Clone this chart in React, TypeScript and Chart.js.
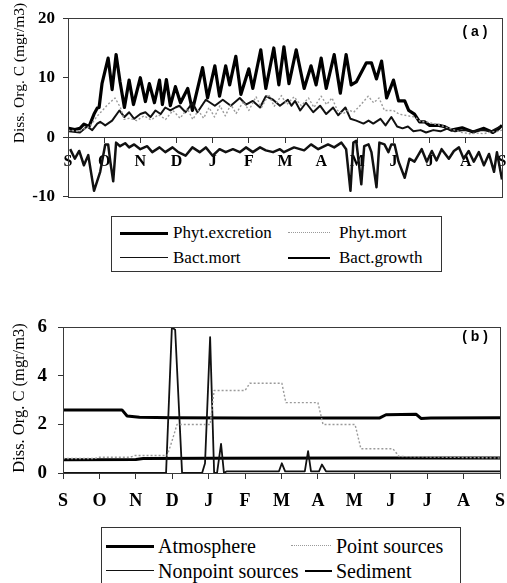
import React, { useEffect, useRef } from "react";
import { Chart, registerables } from "chart.js";
Chart.register(...registerables);

const monthLabels = ["S", "O", "N", "D", "J", "F", "M", "A", "M", "J", "J", "A", "S"];
const yTicksA = [-10, 0, 10, 20];
const yTicksB = [0, 2, 4, 6];
const yTitle = "Diss. Org. C (mgr/m3)";

// Panel (a): [month since Sept 1, mgr/m3]
const phytExcretion: [number, number][] = [
  [0.02, 1.5], [0.19, 1.3], [0.33, 1.5], [0.44, 2.2], [0.58, 1.8], [0.72, 3.9], [0.81, 4.9], [0.86, 5.0],
  [0.94, 9], [1.11, 13.3], [1.22, 8], [1.33, 13.9], [1.44, 9.3], [1.56, 5], [1.69, 9.6], [1.81, 5.5],
  [2.0, 10], [2.14, 6], [2.25, 9], [2.39, 5.8], [2.53, 9.6], [2.61, 5.5], [2.72, 9.7], [2.83, 5.3],
  [2.97, 8.5], [3.11, 5.8], [3.31, 8.2], [3.44, 4.5], [3.72, 11.7], [3.86, 6.6], [4.06, 12], [4.19, 6.9],
  [4.36, 12], [4.47, 8.8], [4.64, 13.6], [4.78, 7.2], [5.0, 11.5], [5.11, 8.2], [5.33, 14.7], [5.47, 8.2],
  [5.69, 15], [5.83, 8.8], [5.97, 15.2], [6.11, 9], [6.31, 14.7], [6.53, 8.2], [6.72, 12], [6.86, 8.8],
  [7.0, 13.3], [7.14, 8.2], [7.36, 13.9], [7.53, 7.4], [7.69, 13.9], [7.83, 8.8], [7.97, 9.3], [8.25, 12.5],
  [8.39, 12.5], [8.53, 9.8], [8.67, 12.8], [8.81, 6.6], [9.0, 9.6], [9.14, 6.1], [9.31, 6.1], [9.42, 4.5],
  [9.58, 3.9], [9.72, 2.6], [9.86, 2.6], [10.0, 2.0], [10.25, 2.0], [10.4, 1.8], [10.6, 1.2], [10.9, 1.6],
  [11.2, 0.9], [11.5, 1.5], [11.75, 0.8], [11.9, 1.4], [12.0, 2.0],
];

const phytMort: [number, number][] = [
  [0, 1.2], [0.3, 1.0], [0.6, 1.8], [0.8, 3.5], [1.1, 5.5], [1.3, 6.6], [1.45, 5], [1.55, 3.0],
  [1.7, 3.2], [1.9, 2.8], [2.1, 3.6], [2.3, 2.9], [2.5, 3.8], [2.7, 3.0], [2.9, 4.5], [3.1, 3.2],
  [3.3, 4.8], [3.45, 3.0], [3.6, 4.5], [3.75, 3.2], [3.9, 5.0], [4.05, 3.4], [4.2, 5.3], [4.35, 3.6],
  [4.5, 5.5], [4.65, 4.0], [4.85, 6.0], [5.0, 4.5], [5.2, 6.8], [5.35, 5.0], [5.55, 7.2], [5.7, 5.2],
  [5.9, 7.0], [6.05, 5.5], [6.25, 6.8], [6.45, 5.3], [6.65, 6.6], [6.8, 5.0], [7.0, 6.9], [7.15, 5.5],
  [7.3, 6.6], [7.45, 4.5], [7.6, 3.9], [7.75, 4.6], [7.9, 4.2], [8.1, 5.5], [8.3, 6.9], [8.45, 5.8],
  [8.6, 6.6], [8.75, 4.5], [9.0, 4.5], [9.15, 3.9], [9.4, 3.6], [9.6, 3.4], [9.75, 2.6], [9.9, 2.6],
  [10.1, 2.3], [10.3, 2.0], [10.5, 1.6], [10.7, 1.2], [10.9, 0.8], [11.1, 0.6], [11.3, 0.7], [11.5, 0.6],
  [11.7, 0.9], [11.9, 1.0], [12, 1.2],
];

const bactMort: [number, number][] = [
  [0.03, 1.0], [0.33, 0.8], [0.53, 1.8], [0.67, 1.2], [0.81, 2.3], [0.89, 2.6], [1.03, 2.0], [1.22, 2.8],
  [1.42, 4.5], [1.56, 3.4], [1.69, 4.2], [1.83, 3.1], [2.0, 3.9], [2.14, 4.2], [2.28, 3.4], [2.42, 4.5],
  [2.56, 3.9], [2.69, 5.0], [2.83, 4.5], [2.97, 5.0], [3.08, 5.3], [3.25, 4.2], [3.44, 5.8], [3.58, 4.2],
  [3.81, 6.3], [4.06, 5.3], [4.28, 6.3], [4.5, 5.3], [4.75, 6.6], [4.92, 5.5], [5.11, 6.1], [5.31, 5.0],
  [5.47, 6.9], [5.67, 6.3], [5.86, 5.3], [6.08, 6.3], [6.18, 5.3], [6.28, 6.1], [6.42, 4.5], [6.58, 5.8],
  [6.78, 4.2], [6.97, 5.3], [7.14, 3.9], [7.33, 5.0], [7.47, 3.7], [7.67, 5.0], [7.81, 3.1], [7.97, 2.8],
  [8.17, 2.3], [8.31, 2.8], [8.44, 2.3], [8.64, 3.1], [8.78, 2.0], [8.94, 3.4], [9.1, 1.8], [9.25, 1.5],
  [9.4, 1.8], [9.55, 1.0], [9.75, 1.2], [9.9, 0.8], [10.1, 1.2], [10.3, 1.0], [10.5, 1.5], [10.7, 1.0],
  [10.95, 1.2], [11.2, 1.0], [11.45, 1.2], [11.7, 1.0], [11.95, 1.8],
];

const bactGrowth: [number, number][] = [
  [0.06, -2], [0.19, -3.6], [0.31, -2.3], [0.44, -4.7], [0.56, -3], [0.72, -9], [0.89, -5.8], [1.03, -1.2],
  [1.11, -1.2], [1.17, -4.1], [1.25, -7.4], [1.33, -0.9], [1.44, -1.5], [1.58, -1.0], [1.69, -1.7], [1.83, -1.2],
  [2.0, -2.0], [2.19, -1.5], [2.33, -2.5], [2.53, -1.7], [2.69, -2.5], [2.89, -1.7], [3.05, -2.5], [3.25, -3.1],
  [3.44, -1.7], [3.64, -2.5], [3.81, -1.7], [4.0, -3.1], [4.19, -2.0], [4.36, -2.5], [4.56, -2.0], [4.75, -2.5],
  [4.92, -1.7], [5.11, -2.5], [5.31, -1.7], [5.47, -2.2], [5.67, -2.5], [5.86, -2.0], [5.97, -2.5], [6.25, -1.7],
  [6.53, -2.2], [6.72, -1.2], [6.92, -2.0], [7.19, -1.2], [7.36, -1.7], [7.56, -0.9], [7.69, -2.0], [7.81, -9.0],
  [7.89, -0.9], [7.97, -0.6], [8.11, -7.9], [8.19, -1.5], [8.31, -1.2], [8.39, -2.5], [8.53, -8.4], [8.61, -0.9],
  [8.75, -1.2], [8.86, -2.5], [8.94, -1.2], [9.03, -1.2], [9.14, -4.1], [9.31, -6.8], [9.44, -3.6], [9.58, -4.1],
  [9.78, -2.0], [9.92, -4.1], [10.06, -2.3], [10.19, -3.9], [10.33, -2.0], [10.53, -3.6], [10.67, -2.3], [10.81, -1.7],
  [10.94, -3.6], [11.08, -2.3], [11.22, -4.1], [11.36, -2.5], [11.5, -4.7], [11.64, -2.8], [11.78, -5.8], [11.86, -2.5],
  [12.0, -7.1],
];

// Panel (b)
const atmosphere: [number, number][] = [
  [0, 0.55], [2.0, 0.56], [2.2, 0.6], [4, 0.61], [8, 0.62], [12, 0.62],
];
const pointSources: [number, number][] = [
  [0, 0.6], [0.88, 0.6], [1.0, 0.65], [1.84, 0.65], [1.98, 0.72], [2.86, 0.72], [2.99, 1.3], [3.13, 2.0],
  [4.04, 2.0], [4.15, 3.4], [5.0, 3.4], [5.13, 3.7], [6.01, 3.7], [6.12, 2.9], [7.0, 2.9], [7.14, 2.0],
  [8.02, 2.0], [8.18, 1.0], [9.06, 1.0], [9.23, 0.68], [10.5, 0.65], [12, 0.62],
];
const nonpointSources: [number, number][] = [
  [0, 0], [2.83, 0], [2.99, 6.0], [3.08, 5.9], [3.27, 0], [3.82, 0], [3.9, 0.4], [4.04, 5.6],
  [4.15, 0], [4.23, 0], [4.34, 1.2], [4.42, 0], [4.5, 0.07], [5.93, 0.07], [6.01, 0.4], [6.1, 0.07],
  [6.64, 0.07], [6.73, 0.9], [6.81, 0.07], [7.03, 0.07], [7.11, 0.35], [7.22, 0.07], [12, 0.07],
];
const sediment: [number, number][] = [
  [0, 2.6], [1.62, 2.6], [1.76, 2.35], [2.1, 2.3], [3, 2.28], [5, 2.27], [8.7, 2.27], [8.87, 2.4],
  [9.7, 2.42], [9.83, 2.25], [10.1, 2.27], [12, 2.28],
];

const SERIF = "'Liberation Serif', 'Times New Roman', serif";
const SANS = "'Liberation Sans', Arial, sans-serif";

const pts = (arr: [number, number][]) => arr.map(([x, y]) => ({ x, y }));

const framePlugin = {
  id: "frame",
  afterDraw(chart: any, _args: any, opts: any) {
    const { ctx, chartArea: a } = chart;
    ctx.save();
    ctx.strokeStyle = "#3a3a3a";
    ctx.lineWidth = 1;
    ctx.strokeRect(Math.round(a.left) + 0.5, Math.round(a.top) + 0.5, Math.round(a.right - a.left), Math.round(a.bottom - a.top));
    ctx.fillStyle = "#000";
    ctx.font = `${opts.titleSize}px ${SERIF}`;
    ctx.textAlign = "center";
    ctx.textBaseline = "middle";
    ctx.translate(opts.titleX, opts.titleY);
    ctx.rotate(-Math.PI / 2);
    ctx.fillText(yTitle, 0, 0);
    ctx.restore();
    ctx.save();
    ctx.fillStyle = "#000";
    ctx.font = `bold 14px ${SANS}`;
    ctx.textAlign = "center";
    ctx.textBaseline = "middle";
    ctx.fillText(opts.tag, opts.tagX, opts.tagY);
    ctx.restore();
  },
};

function line(label: string, data: [number, number][], color: string, width: number, dash: number[] = []) {
  return {
    label,
    data: pts(data),
    borderColor: color,
    borderWidth: width,
    borderDash: dash,
    pointRadius: 0,
    tension: 0,
    fill: false,
    borderJoinStyle: "round" as const,
  };
}

function makeOptions(cfg: any) {
  return {
    responsive: false,
    animation: false,
    devicePixelRatio: 1,
    layout: { padding: cfg.padding },
    plugins: {
      legend: { display: false },
      tooltip: { enabled: false },
      frame: cfg.frame,
    },
    scales: {
      x: {
        type: "linear",
        min: 0,
        max: 12,
        position: cfg.xPosition,
        ticks: {
          stepSize: 1,
          autoSkip: false,
          maxRotation: 0,
          color: "#000",
          padding: cfg.xPad,
          font: { family: SERIF, size: cfg.xFont, weight: "bold" },
          callback: (v: number) => monthLabels[Math.round(v)],
        },
        grid: { drawOnChartArea: false, drawTicks: true, tickLength: cfg.xTick, color: "#333" },
        border: { display: true, color: "#333" },
        afterFit: (s: any) => {
          s.paddingLeft = 0;
          s.paddingRight = 0;
          if (cfg.xHeight) s.height = cfg.xHeight;
        },
      },
      y: {
        type: "linear",
        min: cfg.yMin,
        max: cfg.yMax,
        afterBuildTicks: (s: any) => {
          s.ticks = cfg.yTicks.map((v: number) => ({ value: v }));
        },
        ticks: {
          color: "#000",
          padding: cfg.yPad,
          font: { family: SERIF, size: cfg.yFont, weight: "bold" },
        },
        grid: { drawOnChartArea: false, drawTicks: true, tickLength: 5, color: "#333" },
        border: { display: true, color: "#333" },
        afterFit: (s: any) => {
          s.width = cfg.yWidth;
        },
      },
    },
  };
}

function ChartA() {
  const ref = useRef<HTMLCanvasElement>(null);
  useEffect(() => {
    const chart = new Chart(ref.current!, {
      type: "line",
      data: {
        datasets: [
          line("Phyt.mort", phytMort, "#9a9a9a", 1.4, [2, 2]),
          line("Bact.mort", bactMort, "#111", 2),
          line("Bact.growth", bactGrowth, "#111", 2.5),
          line("Phyt.excretion", phytExcretion, "#000", 3.2),
        ],
      },
      options: makeOptions({
        padding: { top: 17, right: 5, bottom: 13, left: 0 },
        xPosition: { y: 0 },
        xPad: 10,
        xTick: 5,
        xFont: 16,
        yMin: -10,
        yMax: 20,
        yTicks: yTicksA,
        yPad: 8,
        yFont: 17,
        yWidth: 68,
        frame: { titleX: 20, titleY: 73, titleSize: 15.5, tag: "( a )", tagX: 475, tagY: 32 },
      }) as any,
      plugins: [framePlugin],
    });
    return () => chart.destroy();
  }, []);
  return <canvas ref={ref} width={507} height={215} style={{ position: "absolute", left: 0, top: 0 }} />;
}

function ChartB() {
  const ref = useRef<HTMLCanvasElement>(null);
  useEffect(() => {
    const chart = new Chart(ref.current!, {
      type: "line",
      data: {
        datasets: [
          line("Point sources", pointSources, "#9a9a9a", 1.4, [2, 2]),
          line("Nonpoint sources", nonpointSources, "#111", 1.8),
          line("Sediment", sediment, "#000", 3),
          line("Atmosphere", atmosphere, "#000", 3),
        ],
      },
      options: makeOptions({
        padding: { top: 19, right: 7, bottom: 7, left: 0 },
        xPosition: "bottom",
        xPad: 12,
        xTick: 6,
        xFont: 18,
        xHeight: 40,
        yMin: 0,
        yMax: 6,
        yTicks: yTicksB,
        yPad: 11,
        yFont: 19,
        yWidth: 63,
        frame: { titleX: 20, titleY: 93, titleSize: 16.5, tag: "( b )", tagX: 475, tagY: 32 },
      }) as any,
      plugins: [framePlugin],
    });
    return () => chart.destroy();
  }, []);
  return <canvas ref={ref} width={507} height={215} style={{ position: "absolute", left: 0, top: 305 }} />;
}

type Item = { label: string; color: string; width: number; dotted?: boolean; lineX: number; lineW: number; textX: number };

function Legend(props: {
  left: number; top: number; width: number; height: number; font: number;
  rows: number[]; items: Item[];
}) {
  const { left, top, width, height, font, rows, items } = props;
  return (
    <div style={{ position: "absolute", left, top, width, height, border: "1px solid #333", boxSizing: "border-box", background: "#fff" }}>
      {items.map((it, i) => {
        const cy = rows[Math.floor(i / 2)];
        return (
          <React.Fragment key={it.label}>
            <div
              style={{
                position: "absolute",
                left: it.lineX,
                top: cy - it.width / 2,
                width: it.lineW,
                height: 0,
                borderTop: `${it.width}px ${it.dotted ? "dotted" : "solid"} ${it.color}`,
              }}
            />
            <div
              style={{
                position: "absolute",
                left: it.textX,
                top: cy - font * 0.6,
                height: font * 1.2,
                lineHeight: `${font * 1.2}px`,
                fontFamily: SERIF,
                fontSize: font,
                color: "#000",
                whiteSpace: "nowrap",
              }}
            >
              {it.label}
            </div>
          </React.Fragment>
        );
      })}
    </div>
  );
}

export default function App() {
  return (
    <div style={{ position: "absolute", left: 0, top: 0, width: 507, height: 583, background: "#fff", overflow: "hidden" }}>
      <ChartA />
      <Legend
        left={111}
        top={216}
        width={331}
        height={56}
        font={17}
        rows={[16, 41]}
        items={[
          { label: "Phyt.excretion", color: "#000", width: 3, lineX: 8, lineW: 48, textX: 61 },
          { label: "Phyt.mort", color: "#9a9a9a", width: 1.5, dotted: true, lineX: 176, lineW: 42, textX: 227 },
          { label: "Bact.mort", color: "#111", width: 1.5, lineX: 8, lineW: 48, textX: 61 },
          { label: "Bact.growth", color: "#000", width: 2.5, lineX: 176, lineW: 42, textX: 227 },
        ]}
      />
      <ChartB />
      <Legend
        left={101}
        top={527}
        width={360}
        height={75}
        font={20}
        rows={[18, 43]}
        items={[
          { label: "Atmosphere", color: "#000", width: 3, lineX: 4, lineW: 48, textX: 56 },
          { label: "Point sources", color: "#9a9a9a", width: 1.5, dotted: true, lineX: 189, lineW: 40, textX: 234 },
          { label: "Nonpoint sources", color: "#111", width: 1.5, lineX: 4, lineW: 48, textX: 56 },
          { label: "Sediment", color: "#000", width: 2.5, lineX: 203, lineW: 27, textX: 234 },
        ]}
      />
    </div>
  );
}
